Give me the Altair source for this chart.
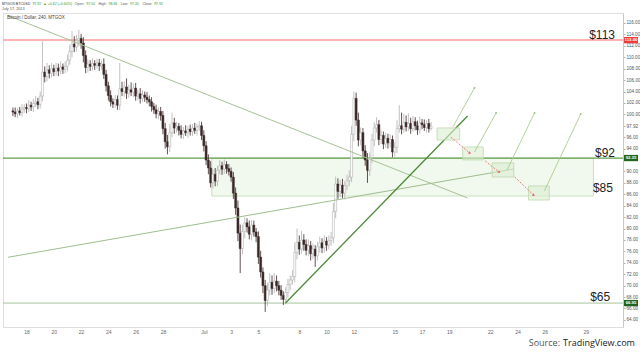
import altair as alt
import pandas as pd

# ---------------- data ----------------
# 4-hour candles, MTGOX BTC/USD, Jun 17 - Jul 17 2013 (day axis: June d -> d, July d -> 30 + d)
first_open = 100.6
closes = [
    100.4, 100.1, 100.6, 100.3, 100.9, 101.2,
    101.0, 101.6, 101.3, 101.9, 102.2, 101.7,
    103.2, 107.4, 106.6, 107.8, 107.2, 108.0,
    107.5, 108.1, 107.6, 108.3, 107.9, 108.4,
    109.5, 111.0, 112.3, 111.8, 112.9, 113.3,
    112.5, 110.3, 108.2, 108.8, 108.4, 108.9,
    108.6, 109.0, 108.5, 108.8, 107.0, 105.0,
    103.3, 102.2, 101.8, 102.6, 101.6, 104.5,
    104.0, 104.8, 103.7, 104.3, 103.9, 104.6,
    103.2, 103.6, 102.8, 103.4, 103.0, 102.6,
    102.2, 101.4, 100.8, 100.1, 100.5, 99.8,
    97.5, 95.2, 94.3, 96.8, 98.5, 97.6,
    97.9, 97.2, 96.5, 97.1, 96.8, 97.4,
    97.0, 97.6, 97.2, 97.8, 98.0, 96.3,
    94.5, 92.0, 90.6, 88.0, 89.5, 88.3,
    90.2, 91.0, 90.4, 91.2, 90.5, 90.0,
    89.0, 86.2, 83.6, 79.2, 76.5, 79.5,
    81.0, 80.3, 79.0, 80.6, 79.4, 78.6,
    75.0, 72.4, 70.0, 67.4, 69.2, 70.6,
    69.5, 70.8, 70.0, 69.2, 68.3, 67.6,
    68.8, 70.2, 71.0, 71.6, 75.8, 77.6,
    76.4, 78.0, 77.2, 76.2, 77.0, 75.6,
    76.4, 75.2, 76.8, 77.5, 76.6, 77.8,
    77.1, 77.9, 78.4, 83.0, 87.8, 86.5,
    87.6, 86.2, 87.5, 88.4, 89.0, 96.5,
    102.8, 99.0, 95.5, 96.8, 93.6, 92.0,
    90.2, 92.4, 95.5, 97.6, 98.2, 95.6,
    96.3, 94.8, 95.8, 95.0, 95.6, 93.4,
    94.2, 97.5, 98.0, 97.4, 98.6, 97.8,
    98.4, 97.5, 98.7, 98.0, 97.3, 98.5,
    98.2, 97.7, 98.4, 97.5, 97.92,
]
up_wick = [
    0.6, 0.8, 0.5, 0.7, 0.9, 0.6,
    0.7, 0.9, 0.6, 0.8, 1.0, 0.7,
    0.8, 5.4, 1.0, 1.2, 0.8, 1.0,
    0.7, 0.9, 0.8, 1.0, 0.6, 0.9,
    1.0, 1.2, 2.3, 1.4, 1.0, 1.5,
    0.8, 1.0, 0.9, 0.8, 0.7, 0.9,
    0.6, 0.8, 0.7, 0.6, 1.0, 0.8,
    0.7, 0.9, 0.6, 0.8, 0.7, 4.5,
    1.2, 1.0, 1.5, 0.9, 1.3, 0.8,
    0.9, 0.7, 1.0, 0.8, 0.6, 0.9,
    0.7, 0.8, 0.6, 0.9, 0.7, 0.8,
    0.8, 1.0, 1.2, 1.5, 1.8, 0.9,
    0.8, 0.6, 0.9, 0.7, 1.0, 0.6,
    0.8, 0.7, 0.9, 0.6, 0.8, 0.7,
    0.9, 0.8, 1.0, 1.2, 0.9, 1.1,
    0.8, 1.0, 0.7, 0.9, 0.6, 0.8,
    0.7, 0.9, 1.0, 1.3, 1.5, 1.2,
    1.0, 0.8, 1.1, 0.9, 0.8, 0.7,
    0.9, 1.1, 0.8, 1.0, 1.3, 1.6,
    1.2, 1.4, 1.0, 0.8, 0.9, 0.7,
    0.9, 1.0, 0.8, 1.1, 1.8, 2.4,
    1.2, 1.6, 1.0, 0.9, 1.1, 0.8,
    1.0, 0.7, 0.9, 1.1, 0.8, 1.0,
    0.7, 0.9, 1.0, 1.5, 1.3, 1.0,
    0.9, 1.1, 0.8, 1.0, 1.2, 1.5,
    1.2, 1.0, 1.3, 0.9, 0.8, 1.0,
    1.2, 0.9, 1.1, 1.0, 1.3, 0.8,
    0.9, 0.7, 1.0, 0.8, 0.9, 0.7,
    0.9, 1.5, 3.6, 2.3, 1.5, 1.2,
    1.8, 1.0, 1.0, 0.8, 0.9, 1.1,
    0.7, 0.9, 0.6, 0.8, 0.74,
]
dn_wick = [
    0.7, 0.6, 0.8, 0.5, 0.7, 0.6,
    0.8, 0.6, 0.7, 0.9, 0.6, 0.8,
    0.7, 0.9, 1.0, 0.8, 0.9, 0.7,
    0.8, 0.7, 0.9, 0.6, 0.8, 0.7,
    0.9, 0.8, 1.0, 0.9, 0.8, 1.0,
    1.0, 1.2, 1.0, 0.9, 0.8, 0.7,
    0.8, 0.6, 0.9, 0.7, 0.8, 1.0,
    0.9, 0.8, 0.7, 0.6, 0.8, 0.9,
    0.8, 0.9, 1.0, 0.8, 0.7, 0.9,
    0.8, 0.7, 0.9, 0.6, 0.8, 0.7,
    0.8, 0.9, 0.7, 0.8, 1.0, 0.9,
    1.0, 1.2, 1.3, 0.9, 0.8, 1.0,
    0.8, 0.9, 0.7, 0.8, 0.6, 0.9,
    0.7, 0.8, 0.6, 0.9, 0.7, 0.8,
    1.0, 0.9, 1.1, 0.8, 1.0, 0.9,
    0.9, 0.7, 1.0, 0.8, 0.9, 0.7,
    0.8, 1.0, 1.2, 1.4, 4.3, 1.0,
    1.2, 1.0, 0.9, 1.1, 0.8, 1.0,
    1.2, 1.0, 1.3, 2.0, 1.0, 0.9,
    1.1, 0.8, 1.0, 0.9, 0.8, 1.0,
    0.8, 0.9, 1.0, 0.8, 1.0, 1.2,
    1.0, 0.8, 1.1, 0.9, 1.0, 1.2,
    0.9, 1.9, 0.8, 1.0, 0.9, 0.8,
    1.0, 0.8, 0.9, 1.0, 1.2, 1.3,
    1.0, 0.9, 1.1, 0.8, 1.0, 0.9,
    1.2, 1.0, 1.1, 0.9, 1.2, 1.0,
    2.2, 1.0, 0.9, 1.1, 0.8, 1.0,
    0.8, 0.9, 0.7, 1.0, 0.8, 0.9,
    0.8, 1.0, 0.7, 0.9, 0.6, 0.8,
    0.7, 0.9, 0.6, 0.8, 0.9, 0.7,
    0.8, 0.6, 0.9, 0.7, 0.3,
]

# price levels (horizontal lines)
level_prices = [113.0, 92.35, 66.95]
level_colors = ["#ff9a9a", "#5f9e4a", "#a9c39c"]
level_widths = [1.5, 1.3, 1.0]

# support zone
zone_days = [31.58, 59.57]
zone_prices = [85.7, 92.35]

# trend lines: start day, start price, end day, end price
trend_x0 = [16.64, 16.64, 36.99]
trend_y0 = [117.3, 74.97, 66.95]
trend_x1 = [50.34, 53.73, 50.34]
trend_y1 = [85.35, 90.44, 99.72]
trend_colors = ["#a6c195", "#9fbd8d", "#4a8a36"]
trend_widths = [1.0, 1.0, 1.3]

# projected boxes
box_x0 = [48.10, 49.98, 52.14, 54.81]
box_x1 = [49.76, 51.49, 53.73, 56.33]
box_y0 = [95.52, 92.01, 89.03, 85.00]
box_y1 = [97.62, 94.29, 91.49, 87.46]

# red arrows between boxes
arrow_x0 = [49.11, 51.63, 53.80]
arrow_y0 = [96.04, 91.84, 89.03]
arrow_x1 = [50.48, 52.64, 55.17]
arrow_y1 = [93.24, 89.91, 85.88]

# green projection lines from boxes
proj_x0 = [49.26, 50.85, 53.23, 55.97]
proj_y0 = [97.80, 93.41, 90.26, 86.58]
proj_x1 = [50.85, 52.43, 55.25, 58.64]
proj_y1 = [104.63, 100.25, 100.25, 100.07]

# level annotations
label_texts = ["$113", "$92", "$85", "$65"]
label_days = [61.15, 61.15, 61.0, 60.8]
label_prices = [113.25, 92.55, 86.45, 67.35]

# axis tags
tag_prices = [113.0, 92.35, 66.95]
tag_texts = ["113.00", "92.35", "66.95"]
tag_colors = ["#ee3b3b", "#21661c", "#21661c"]

x_tick_days = [18, 20, 22, 24, 26, 28, 31, 33, 35, 38, 40, 42, 45, 47, 49, 52, 54, 56, 59]
x_tick_labels = ["18", "20", "22", "24", "26", "28", "Jul", "3", "5", "8", "10", "12",
                 "15", "17", "19", "22", "24", "26", "29"]
y_tick_values = [64, 66, 68, 70, 72, 74, 76, 78, 80, 82, 84, 86, 88, 90, 94, 96,
                 97.92, 100, 102, 104, 106, 108, 110, 112, 114, 116]

# header segments (text, colour)
G = "#2f9a2f"
header_segments = [
    ("MTGOX:BTCUSD", "#333333"), ("97.92", G), ("▲ +0.62 (+0.64%)", G),
    ("Open:", "#555555"), ("97.50", G), ("High:", "#555555"), ("98.66", G),
    ("Low:", "#555555"), ("97.20", G), ("Close:", "#555555"), ("97.92", G),
]

# ---------------- tables ----------------
opens = [first_open] + closes[:-1]
candles = pd.DataFrame({
    "t": [17 + i / 6 for i in range(len(closes))],
    "open": opens,
    "close": closes,
})
candles["high"] = [max(o, c) + u for o, c, u in zip(opens, closes, up_wick)]
candles["low"] = [min(o, c) - d for o, c, d in zip(opens, closes, dn_wick)]
candles["up"] = candles["close"] >= candles["open"]
candles["fill"] = ["#ffffff" if u else "#3a2727" for u in candles["up"]]
candles["stroke"] = ["#a9a9a9" if u else "#3a2727" for u in candles["up"]]
candles["wick"] = ["#b3b3b3" if u else "#3a2727" for u in candles["up"]]

W, H = 620, 314
xs = alt.Scale(domain=[16.64, 61.37], nice=False, zero=False)
ys = alt.Scale(domain=[62.76, 117.75], nice=False, zero=False)

label_expr = "''"
for d, l in reversed(list(zip(x_tick_days, x_tick_labels))):
    label_expr = f"datum.value == {d} ? '{l}' : ({label_expr})"

x_axis = alt.Axis(values=x_tick_days, labelExpr=label_expr, labelFontSize=5,
                  labelColor="#666666", tickSize=0, domain=False, grid=False,
                  labelPadding=2, title=None, labelFlush=False, labelFont="Liberation Sans")
y_axis = alt.Axis(orient="right", values=y_tick_values, format=".2f", labelFontSize=4.6,
                  labelColor="#555555", tickSize=2, tickColor="#b0b0b0", domainColor="#c8c8c8",
                  labelPadding=1, grid=False, title=None, labelFont="Liberation Sans",
                  labelOverlap=False, labelFlush=False)


def X(f):
    return alt.X(f, scale=xs, axis=x_axis)


def Y(f):
    return alt.Y(f, scale=ys, axis=y_axis)


zone = alt.Chart(pd.DataFrame({"x0": [zone_days[0]], "x1": [zone_days[1]],
                               "y0": [zone_prices[0]], "y1": [zone_prices[1]]})).mark_rect(
    fill="#e6f3de", fillOpacity=0.55, stroke="#c2dbb4", strokeWidth=0.8
).encode(x=X("x0:Q"), x2="x1:Q", y=Y("y0:Q"), y2="y1:Q")

levels = alt.Chart(pd.DataFrame({"p": level_prices, "c": level_colors, "w": level_widths})).mark_rule().encode(
    y=Y("p:Q"),
    color=alt.Color("c:N", scale=None),
    strokeWidth=alt.StrokeWidth("w:Q", scale=None),
)

wicks = alt.Chart(candles).mark_rule(strokeWidth=0.8).encode(
    x=X("t:Q"), y=Y("low:Q"), y2="high:Q",
    color=alt.Color("wick:N", scale=None),
)

bodies = alt.Chart(candles).mark_bar(size=2.0, strokeWidth=0.5).encode(
    x=X("t:Q"), y=Y("open:Q"), y2="close:Q",
    fill=alt.Fill("fill:N", scale=None),
    stroke=alt.Stroke("stroke:N", scale=None),
)

trends = alt.Chart(pd.DataFrame({"x0": trend_x0, "y0": trend_y0, "x1": trend_x1, "y1": trend_y1,
                                 "c": trend_colors, "w": trend_widths})).mark_rule().encode(
    x=X("x0:Q"), x2="x1:Q", y=Y("y0:Q"), y2="y1:Q",
    color=alt.Color("c:N", scale=None),
    strokeWidth=alt.StrokeWidth("w:Q", scale=None),
)

boxes = alt.Chart(pd.DataFrame({"x0": box_x0, "x1": box_x1, "y0": box_y0, "y1": box_y1})).mark_rect(
    fill="#dcedd1", fillOpacity=0.6, stroke="#bdd8ad", strokeWidth=0.8
).encode(x=X("x0:Q"), x2="x1:Q", y=Y("y0:Q"), y2="y1:Q")

arrows_df = pd.DataFrame({"x0": arrow_x0, "y0": arrow_y0, "x1": arrow_x1, "y1": arrow_y1})
arrows = alt.Chart(arrows_df).mark_rule(color="#f07b7b", strokeWidth=1, strokeDash=[2, 1.5]).encode(
    x=X("x0:Q"), x2="x1:Q", y=Y("y0:Q"), y2="y1:Q",
)
heads = alt.Chart(arrows_df).mark_point(shape="triangle", filled=True, color="#e85a5a",
                                        size=9, angle=130, opacity=1).encode(
    x=X("x1:Q"), y=Y("y1:Q"),
)

proj_df = pd.DataFrame({"x0": proj_x0, "y0": proj_y0, "x1": proj_x1, "y1": proj_y1})
proj = alt.Chart(proj_df).mark_rule(color="#a9cc93", strokeWidth=0.9).encode(
    x=X("x0:Q"), x2="x1:Q", y=Y("y0:Q"), y2="y1:Q",
)
proj_dots = alt.Chart(proj_df).mark_point(filled=True, color="#9cc485", size=4, opacity=1).encode(
    x=X("x1:Q"), y=Y("y1:Q"),
)

labels = alt.Chart(pd.DataFrame({"t": label_texts, "x": label_days, "y": label_prices})).mark_text(
    align="right", baseline="alphabetic", fontSize=12, font="Liberation Sans", color="#222222"
).encode(x=X("x:Q"), y=Y("y:Q"), text="t:N")

tag_df = pd.DataFrame({"p": tag_prices, "t": tag_texts, "c": tag_colors})
tag_df["p0"] = tag_df["p"] - 0.55
tag_df["p1"] = tag_df["p"] + 0.55
tags = alt.Chart(tag_df).mark_rect().encode(
    x=alt.value(W + 1), x2=alt.value(W + 15),
    y=Y("p0:Q"), y2="p1:Q",
    color=alt.Color("c:N", scale=None),
)
tag_text = alt.Chart(tag_df).mark_text(fontSize=4.3, font="Liberation Sans", color="white",
                                       fontWeight="bold", align="center", baseline="middle").encode(
    x=alt.value(W + 8), y=Y("p:Q"), text="t:N")

dummy = alt.Data(values=[{"a": 1}])


def txt(s, x, y, color="#444444", size=4.5, align="left", weight="normal", font="Liberation Sans"):
    return alt.Chart(dummy).mark_text(align=align, baseline="middle", fontSize=size, color=color,
                                      fontWeight=weight, font=font).encode(
        x=alt.value(x), y=alt.value(y), text=alt.value(s))


# approximate Arial/Liberation advance widths (em) for laying the header segments side by side
EM = {ch: 0.556 for ch in "0123456789"}
EM.update({".": 0.278, ":": 0.278, " ": 0.278, "(": 0.333, ")": 0.333, "+": 0.584, "%": 0.889,
           "▲": 0.8, "M": 0.833, "T": 0.611, "G": 0.778, "O": 0.778, "X": 0.667, "B": 0.667,
           "C": 0.722, "U": 0.722, "S": 0.667, "D": 0.722, "H": 0.722, "L": 0.556, "i": 0.222,
           "l": 0.222, "s": 0.5, "w": 0.722})


def text_width(s, size):
    return sum(EM.get(ch, 0.556) for ch in s) * size


HS = 3.5
header = []
cx = -1.0
for i, (s, c) in enumerate(header_segments):
    header.append(txt(s, cx, -9.5, c, HS))
    gap = 1.8 if i in (3, 5, 7, 9) else (2.2 if i in (0, 1) else 3.6)
    cx += text_width(s, HS) + gap

header += [
    txt("July 17, 2013", -1, -4.5, "#555555", 3.8),
    txt("Bitcoin / Dollar, 240, MTGOX", 4, 5, "#444444", 4.5),
    txt("Source:", 557, 330, "#555555", 9, "right", "normal", "Open Sans"),
    txt("TradingView.com", 560, 330, "#222222", 9, "left", "normal", "Open Sans"),
]

chart = alt.layer(
    zone, levels, wicks, bodies, trends, boxes, arrows, heads, proj, proj_dots,
    labels, tags, tag_text, *header
).properties(
    width=W, height=H,
    autosize=alt.AutoSizeParams(type="none"),
    padding={"left": 3, "top": 13, "right": 17, "bottom": 25},
).configure_view(stroke="#cccccc", strokeWidth=1).configure(background="white")

chart.save("out.html", embed_options={"renderer": "svg", "actions": False})
